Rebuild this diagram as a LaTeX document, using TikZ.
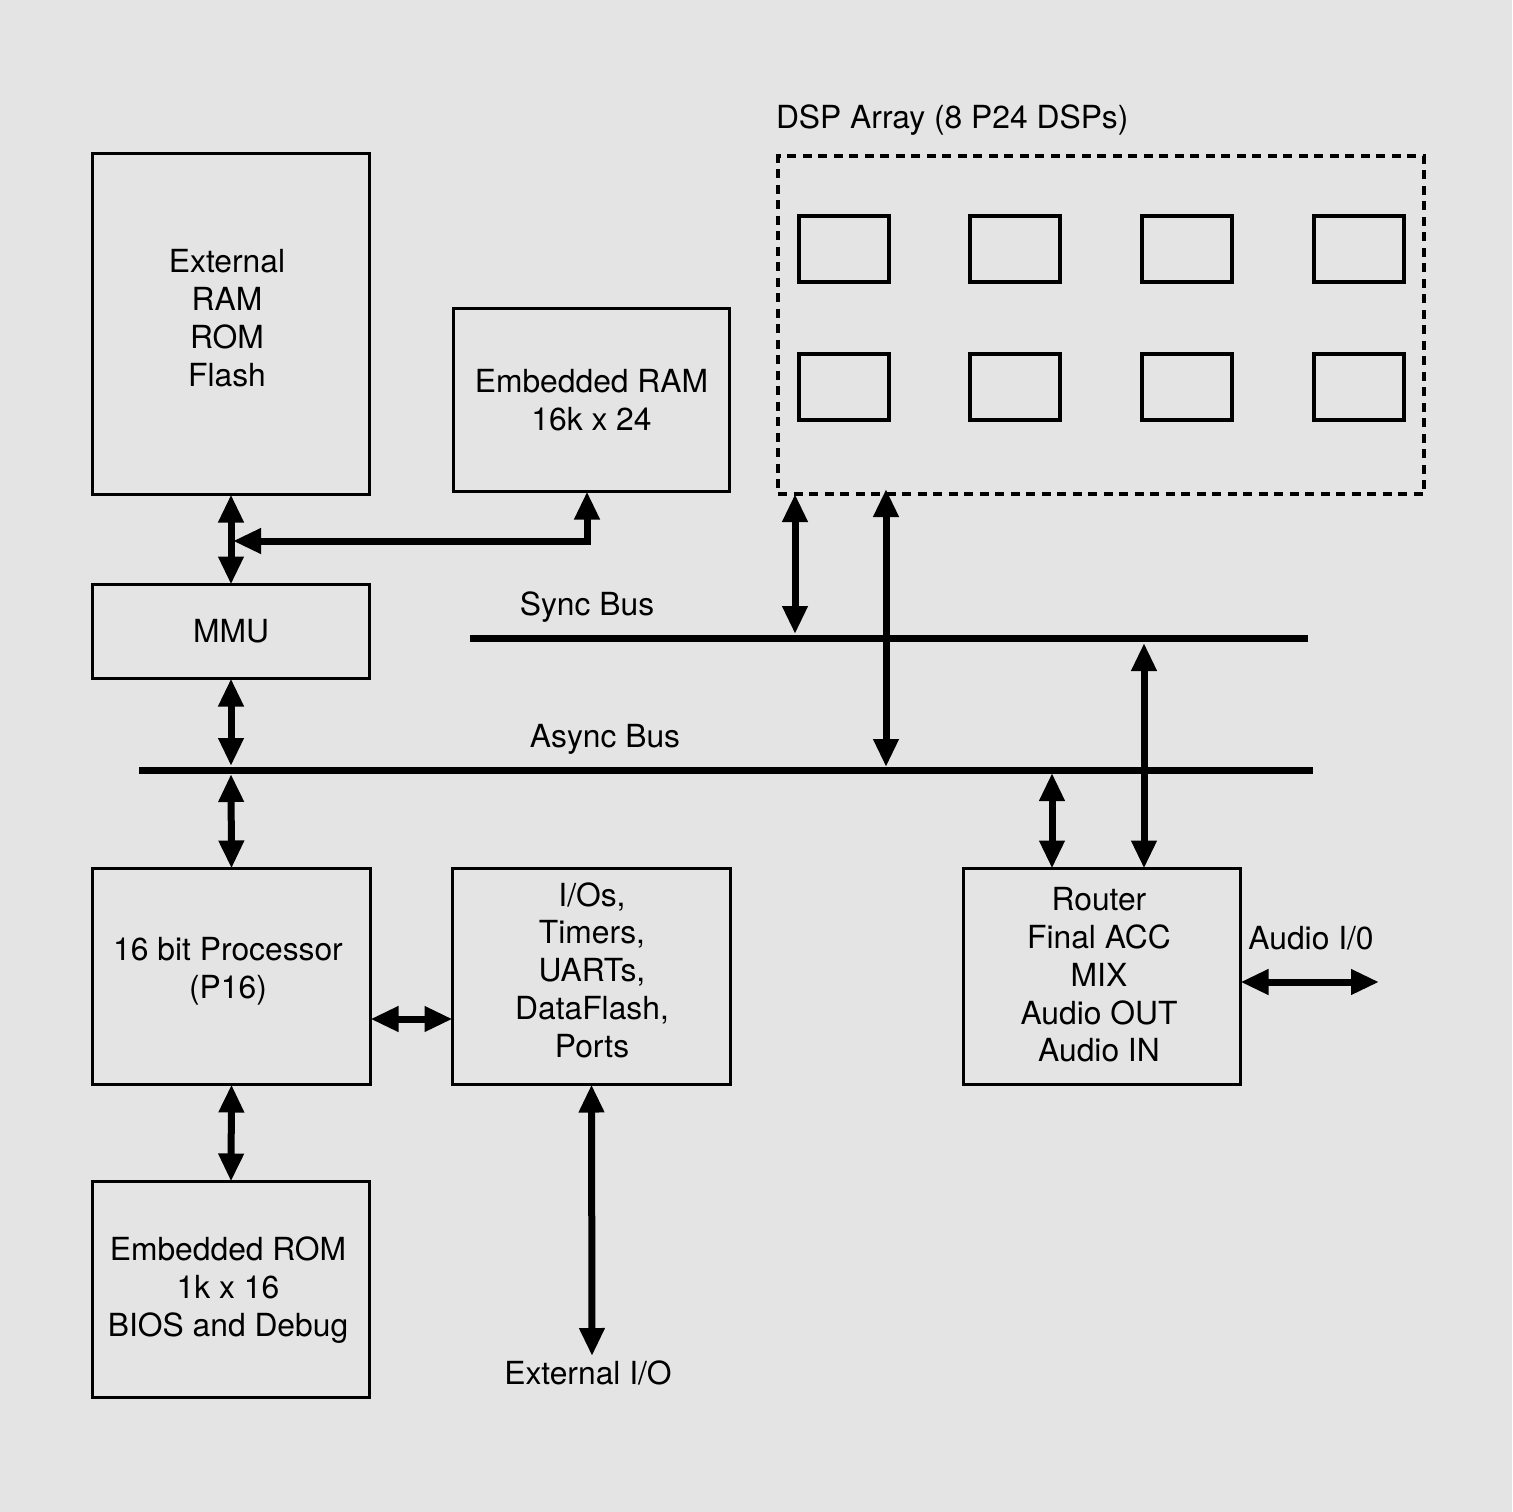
\documentclass[tikz,border=0pt]{standalone}
\usepackage{fontspec}
\setmainfont{TeX Gyre Heros}
\usetikzlibrary{arrows.meta,calc}
\begin{document}
\begin{tikzpicture}[x=1pt,y=-1pt,
  every node/.style={font=\fontsize{31.8}{37.8}\selectfont, inner sep=0pt, outer sep=0pt},
  box/.style={draw, line width=3pt, align=center},
  dspbox/.style={draw, line width=4pt, minimum width=90, minimum height=66},
  lbl/.style={align=center},
  bus/.style={line width=7pt},
  dbl/.style={line width=7pt, {Triangle[length=28pt,width=24pt]}-{Triangle[length=28pt,width=24pt]}}
]
\fill[fill={rgb,255:red,228;green,228;blue,228}] (0,0) rectangle (1512,1512);
\useasboundingbox (0,0) rectangle (1512,1512);

% boxes
\node[box, minimum width=277, minimum height=341] (ext) at (231,324) {};
\node[lbl] (exttxt) at (227,318) {External\\RAM\\ROM\\Flash};
\node[box, minimum width=276, minimum height=183] (ram) at (591.5,400) {Embedded RAM\\16k x 24};
\node[box, minimum width=277, minimum height=94] (mmu) at (231,631.5) {MMU};
\node[box, minimum width=278, minimum height=216] (cpu) at (231.5,976.5) {};
\node[lbl] (cputxt) at (228,971) {16 bit Processor\\(P16)};
\node[box, minimum width=278, minimum height=216] (io) at (591.5,976.5) {};
\node[lbl] (iotxt) at (592,970) {I/Os,\\Timers,\\UARTs,\\DataFlash,\\Ports};
\node[box, minimum width=277, minimum height=216] (router) at (1102,976.5) {};
\node[lbl] (routertxt) at (1099,975) {Router\\Final ACC\\MIX\\Audio OUT\\Audio IN};
\node[box, minimum width=277, minimum height=216] (rom) at (231,1289.5) {};
\node[lbl] (romtxt) at (228,1290) {Embedded ROM\\1k x 16\\BIOS and Debug};

% DSP array
\node[draw, line width=4pt, dash pattern=on 9pt off 6.5pt, minimum width=646, minimum height=338] (dsp) at (1101,325) {};
\node[anchor=west] (dsplbl) at (776,120) {DSP Array (8 P24 DSPs)};
\node[dspbox] (d1) at (843.5,248.5) {};
\node[dspbox] (d2) at (1015,248.5) {};
\node[dspbox] (d3) at (1186.5,248.5) {};
\node[dspbox] (d4) at (1358.5,248.5) {};
\node[dspbox] (d5) at (843.5,387) {};
\node[dspbox] (d6) at (1015,387) {};
\node[dspbox] (d7) at (1186.5,387) {};
\node[dspbox] (d8) at (1358.5,387) {};

% buses
\coordinate (syncL) at (470,638);
\coordinate (syncR) at (1308,638);
\coordinate (asyncL) at (139,770);
\coordinate (asyncR) at (1313,770);
\draw[bus] (syncL) -- (syncR);
\draw[bus] (asyncL) -- (asyncR);
\node[lbl] (synclbl) at (587,607) {Sync Bus};
\node[lbl] (asynclbl) at (605,739) {Async Bus};

% taps
\coordinate (j1) at (233,541);
\coordinate (mmuA) at (231,766);
\coordinate (cpuA) at (231,774);
\coordinate (dspS1) at (795,634);
\coordinate (dspA1) at (886,767);
\coordinate (rA) at (1052,773);
\coordinate (rS) at (1144,643);
\coordinate (ext1) at (592,1356);
\coordinate (aud) at (1379,982);

% connectors
\draw[dbl] (ext.south) -- (mmu.north);
\draw[dbl] (j1) -| ([xshift=-4.5pt]ram.south);
\draw[dbl] (mmu.south) -- (mmuA);
\draw[dbl] (cpuA) -- (cpu.north);
\draw[dbl] (cpu.south) -- (rom.north);
\draw[dbl] (cpu.east |- 0,1019) -- (io.west |- 0,1019);
\draw[dbl] (io.south) -- (ext1);
\draw[dbl] (dsp.south west -| dspS1) -- (dspS1);
\draw[dbl] ([yshift=5pt]dsp.south west -| dspA1) -- (dspA1);
\draw[dbl] (rA) -- (router.north -| rA);
\draw[dbl] (rS) -- (router.north -| rS);
\draw[dbl] (router.east |- aud) -- (aud);

\node[lbl] (extlbl) at (588,1373) {External I/O};
\node[lbl] (audlbl) at (1311,938) {Audio I/0};
\end{tikzpicture}
\end{document}
